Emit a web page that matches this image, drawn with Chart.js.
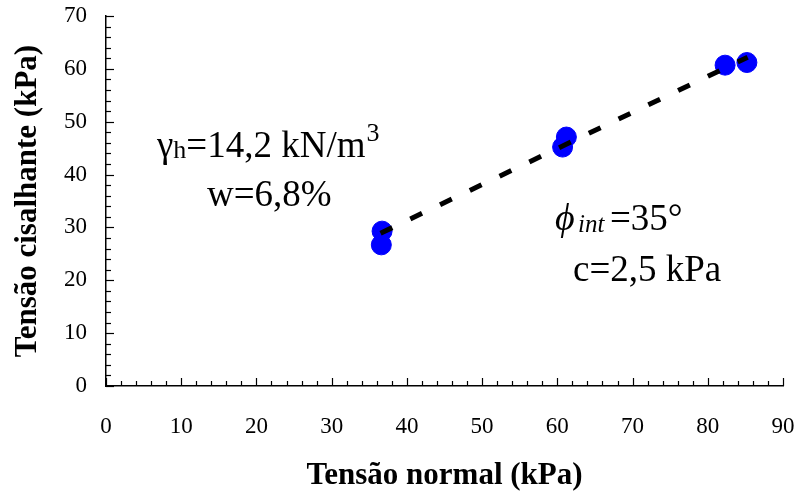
<!DOCTYPE html>
<html><head><meta charset="utf-8">
<script src="https://cdn.jsdelivr.net/npm/chart.js@4.4.1/dist/chart.umd.min.js"></script>
<style>html,body{margin:0;padding:0;background:#fff}#wrap{width:798px;height:495px}</style>
</head><body><div id="wrap"><canvas id="c" width="798" height="495"></canvas></div>
<script>
const normalStress = [36.6, 36.7, 60.7, 61.2, 82.3, 85.2];
const shearStress = [26.7, 29.3, 45.2, 47.1, 60.7, 61.2];
const trendX = [36.5, 85.3];
const trendY = [28.9, 62.2];
const xTitle = 'Tensão normal (kPa)';
const yTitle = 'Tensão cisalhante (kPa)';

const SERIF = '"Liberation Serif", "Times New Roman", serif';

const decor = {
  id: 'decor',
  afterDraw(chart) {
    const ctx = chart.ctx, xs = chart.scales.x, ys = chart.scales.y;
    const x0 = xs.getPixelForValue(0), y0 = ys.getPixelForValue(0);
    ctx.save();
    ctx.strokeStyle = '#000'; ctx.lineWidth = 1.2;
    for (let v = 0; v <= 90; v += 2) {
      const px = Math.round(xs.getPixelForValue(v)) + 0.5;
      const len = v % 10 === 0 ? 8 : 5;
      ctx.beginPath(); ctx.moveTo(px, y0); ctx.lineTo(px, y0 - len); ctx.stroke();
    }
    for (let v = 0; v <= 70; v += 2) {
      const py = Math.round(ys.getPixelForValue(v)) + 0.5;
      const len = v % 10 === 0 ? 8 : 5;
      ctx.beginPath(); ctx.moveTo(x0, py); ctx.lineTo(x0 + len, py); ctx.stroke();
    }
    // annotations
    ctx.fillStyle = '#000'; ctx.textBaseline = 'alphabetic'; ctx.textAlign = 'left';
    let x = 157, y = 157;
    ctx.font = '37px ' + SERIF; ctx.fillText('γ', x, y); x += ctx.measureText('γ').width;
    ctx.font = '26px ' + SERIF; ctx.fillText('h', x, y + 1); x += ctx.measureText('h').width;
    ctx.font = '37px ' + SERIF; ctx.fillText('=14,2 kN/m', x, y); x += ctx.measureText('=14,2 kN/m').width;
    ctx.font = '26px ' + SERIF; ctx.fillText('3', x + 1, y - 16);
    ctx.font = '37px ' + SERIF; ctx.fillText('w=6,8%', 207, 206);
    y = 230;
    ctx.font = 'italic 38px ' + SERIF; ctx.fillText('ϕ', 555, y);
    ctx.font = 'italic 25px ' + SERIF; ctx.fillText('int', 578, y + 2);
    ctx.font = '37px ' + SERIF; ctx.fillText('=35°', 610, y);
    ctx.fillText('c=2,5 kPa', 573, 281);
    ctx.restore();
  }
};

function noPad(s) { s.paddingTop = 0; s.paddingBottom = 0; s.paddingLeft = 0; s.paddingRight = 0; }

new Chart(document.getElementById('c'), {
  type: 'scatter',
  data: {
    datasets: [
      {
        type: 'line',
        data: trendX.map((v, i) => ({x: v, y: trendY[i]})),
        borderColor: '#000', borderWidth: 5, borderDash: [13, 20],
        pointRadius: 0, fill: false, order: 0
      },
      {
        data: normalStress.map((v, i) => ({x: v, y: shearStress[i]})),
        backgroundColor: '#0000ff', borderColor: '#0000ff',
        pointRadius: 10, pointHoverRadius: 10, order: 1
      }
    ]
  },
  options: {
    responsive: false, animation: false,
    layout: {padding: {top: 16, right: 15, left: 0, bottom: 0}},
    plugins: {legend: {display: false}, tooltip: {enabled: false}},
    scales: {
      x: {
        type: 'linear', min: 0, max: 90,
        ticks: {stepSize: 10, color: '#000', font: {family: SERIF, size: 23}, padding: 27, maxRotation: 0},
        grid: {display: false, drawTicks: false},
        border: {display: true, color: '#000', width: 1.5},
        title: {display: true, text: xTitle, color: '#000', font: {family: SERIF, size: 31, weight: 'bold'}, padding: {top: 0, bottom: 0}},
        afterFit(s) { s.height = 109; noPad(s); }
      },
      y: {
        type: 'linear', min: 0, max: 70,
        ticks: {stepSize: 10, color: '#000', font: {family: SERIF, size: 23}, padding: 19},
        grid: {display: false, drawTicks: false},
        border: {display: true, color: '#000', width: 1.5},
        title: {display: true, text: yTitle, color: '#000', font: {family: SERIF, size: 31, weight: 'bold'}, padding: {top: 9, bottom: 0}},
        afterFit(s) { s.width = 106; noPad(s); }
      }
    }
  },
  plugins: [decor]
});
</script>
</body></html>
